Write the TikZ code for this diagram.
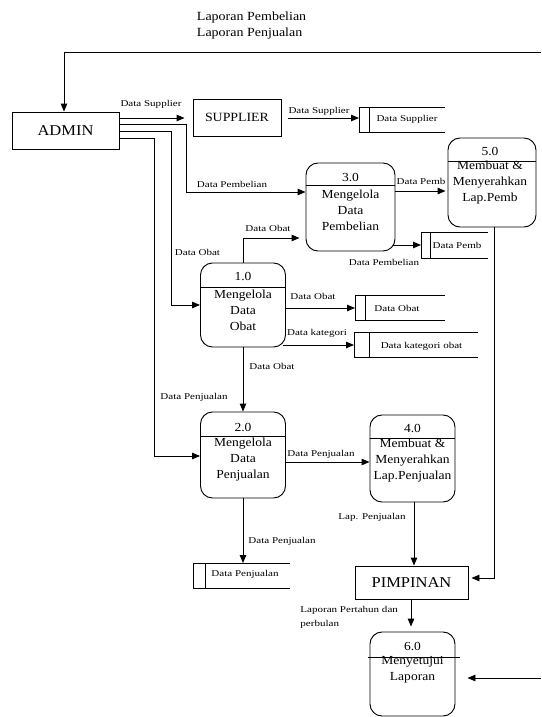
\documentclass[tikz,border=0pt]{standalone}
\usepackage{fontspec}
\setmainfont{Liberation Serif}
\newfontfamily\lblfont[FakeStretch=1.24]{Liberation Serif}
\newfontfamily\procfont[FakeStretch=1.1]{Liberation Serif}
\newfontfamily\widefont[FakeStretch=1.12]{Liberation Serif}
\usetikzlibrary{arrows.meta}
\begin{document}
\begin{tikzpicture}[x=1pt,y=-1pt,line width=0.95pt,
  flow/.style={draw,-{Triangle[length=8pt,width=6.5pt]}},
  ent/.style={draw,inner sep=0pt},
  proc/.style={draw,rounded corners=12pt,inner sep=0pt},
  ptxt/.style={font=\procfont\fontsize{12.3}{16}\selectfont,align=center,inner sep=0pt},
  stbox/.style={inner sep=0pt,outer sep=0pt},
  lbl/.style={font=\lblfont\fontsize{8.9}{14}\selectfont,inner sep=0pt}]
\fill[white] (0,0) rectangle (541,717);
\useasboundingbox (0,0) rectangle (541,717);

% external entities
\node[ent,minimum width=107pt,minimum height=37pt,font=\procfont\fontsize{15}{18}\selectfont] (adm) at (65.5,130.5) {ADMIN};
\node[ent,minimum width=88pt,minimum height=37pt,font=\procfont\fontsize{12.6}{16}\selectfont] (sup) at (237,117.5) {SUPPLIER};
\node[ent,minimum width=113pt,minimum height=33pt,font=\procfont\fontsize{15}{18}\selectfont] (pim) at (411.5,582.5) {PIMPINAN};

% processes
\node[proc,minimum width=85pt,minimum height=84pt] (p1) at (243,305) {};
\draw (p1.west |- 0,287) -- (p1.east |- 0,287);
\node[ptxt] (p1n) at (243,276) {1.0};
\node[ptxt] (p1t) at (243,310) {Mengelola\\Data\\Obat};

\node[proc,minimum width=85pt,minimum height=86pt] (p2) at (243,455) {};
\draw (p2.west |- 0,436) -- (p2.east |- 0,436);
\node[ptxt] (p2n) at (243,427) {2.0};
\node[ptxt] (p2t) at (243,460) {Mengelola\\Data\\Penjualan};

\node[proc,minimum width=89pt,minimum height=88pt] (p3) at (350.5,207) {};
\draw (p3.west |- 0,185) -- (p3.east |- 0,185);
\node[ptxt] (p3n) at (350.5,177) {3.0};
\node[ptxt] (p3t) at (350.5,210.5) {Mengelola\\Data\\Pembelian};

\node[proc,minimum width=85pt,minimum height=87pt] (p4) at (412.5,458.5) {};
\draw (p4.west |- 0,438) -- (p4.east |- 0,438);
\node[ptxt] (p4n) at (412.5,428) {4.0};
\node[ptxt] (p4t) at (412.5,461) {Membuat \&\\Menyerahkan\\Lap.Penjualan};

\node[proc,minimum width=88pt,minimum height=89pt] (p5) at (492,182.5) {};
\draw (p5.west |- 0,161) -- (p5.east |- 0,161);
\node[ptxt] (p5n) at (490,151) {5.0};
\node[ptxt] (p5t) at (490,183) {Membuat \&\\Menyerahkan\\Lap.Pemb};

\node[proc,minimum width=85pt,minimum height=84pt] (p6) at (412.5,674) {};
\draw ([xshift=-2pt]p6.west |- 0,657) -- ([xshift=5pt]p6.east |- 0,657);
\node[ptxt] (p6n) at (412.5,646) {6.0};
\node[ptxt] (p6t) at (412.5,670) {Menyetujui\\Laporan};

% data stores
\node[stbox,minimum width=86pt,minimum height=25pt] (sSup) at (402,119.5) {};
\draw (sSup.north east) -- (sSup.north west) -- (sSup.south west) -- (sSup.south east);
\draw ([xshift=10pt]sSup.north west) -- ([xshift=10pt]sSup.south west);
\node[lbl] (sSupT) at (407,119) {Data Supplier};

\node[stbox,minimum width=67pt,minimum height=26pt] (sPemb) at (454.5,245) {};
\draw (sPemb.north east) -- (sPemb.north west) -- (sPemb.south west) -- (sPemb.south east);
\draw ([xshift=9pt]sPemb.north west) -- ([xshift=9pt]sPemb.south west);
\node[lbl] (sPembT) at (457,245) {Data Pemb};

\node[stbox,minimum width=90pt,minimum height=25pt] (sObat) at (400,307.5) {};
\draw (sObat.north east) -- (sObat.north west) -- (sObat.south west) -- (sObat.south east);
\draw ([xshift=10pt]sObat.north west) -- ([xshift=10pt]sObat.south west);
\node[lbl] (sObatT) at (397,308) {Data Obat};

\node[stbox,minimum width=124pt,minimum height=25pt] (sKat) at (416,344.5) {};
\draw (sKat.north east) -- (sKat.north west) -- (sKat.south west) -- (sKat.south east);
\draw ([xshift=15pt]sKat.north west) -- ([xshift=15pt]sKat.south west);
\node[lbl] (sKatT) at (421.5,346) {Data kategori obat};

\node[stbox,minimum width=96pt,minimum height=25pt] (sPenj) at (241.5,575.5) {};
\draw (sPenj.north east) -- (sPenj.north west) -- (sPenj.south west) -- (sPenj.south east);
\draw ([xshift=11.5pt]sPenj.north west) -- ([xshift=11.5pt]sPenj.south west);
\node[lbl] (sPenjT) at (245,574) {Data Penjualan};

% free ends
\coordinate (topR) at (541,52);
\coordinate (botR) at (541,678);

% connectors
\draw[flow] (topR) -- (64,52) -- (adm.north -| 64,0);
\node[font=\widefont\fontsize{12.5}{16}\selectfont,align=left,anchor=west,inner sep=0pt] (lbTop) at (196.5,25) {Laporan Pembelian\\Laporan Penjualan};

\draw[flow,shorten >=8pt] (adm.east |- 0,118) -- (sup.west |- 0,118);
\node[lbl] (lb1) at (151,104) {Data Supplier};

\draw[flow] (adm.east |- 0,124) -- (186,124) -- (186,192) -- (p3.west |- 0,192);
\node[lbl] (lb2) at (232,184) {Data Pembelian};

\draw[flow] (adm.east |- 0,131) -- (171,131) -- (171,305) -- (p1.west);
\node[lbl] (lb3) at (197.5,252) {Data Obat};

\draw[flow] (adm.east |- 0,138) -- (154,138) -- (154,456) -- (p2.west |- 0,456);
\node[lbl] (lb4) at (194,397) {Data Penjualan};

\draw[flow,shorten <=7pt] (sup.east |- 0,118) -- (sSup.west |- 0,118);
\node[lbl] (lb5) at (319,111) {Data Supplier};

\draw[flow,shorten >=2pt] (p3.east |- 0,191) -- (p5.west |- 0,191);
\node[lbl] (lb6) at (421,181) {Data Pemb};

\draw[flow] ([xshift=-2pt]p3.east |- 0,245) -- (sPemb.west |- 0,245);
\node[lbl] (lb7) at (384,262) {Data Pembelian};

\draw[flow,shorten >=6pt] (p1.north) -- (243,238) -- (p3.west |- 0,238);
\node[lbl] (lb8) at (268,228) {Data Obat};

\draw[flow] (p1.east |- 0,308) -- (sObat.west |- 0,308);
\node[lbl] (lb9) at (313,296) {Data Obat};

\draw[flow] ([xshift=-3pt]p1.east |- 0,345) -- (sKat.west |- 0,345);
\node[lbl] (lb10) at (317,333) {Data kategori};

\draw[flow] (p1.south) -- (p2.north);
\node[lbl] (lb11) at (272,366) {Data Obat};

\draw[flow] (p2.east |- 0,462) -- (p4.west |- 0,462);
\node[lbl] (lb12) at (321,454) {Data Penjualan};

\draw[flow] (p4.south -| 414,0) -- (pim.north -| 414,0);
\node[lbl] (lb13) at (372,517) {Lap. Penjualan};

\draw[flow,shorten >=3pt] (p5.south -| 494,0) -- (494,578) -- (pim.east |- 0,578);

\draw[flow] (p2.south) -- (p2.south |- sPenj.north);
\node[lbl] (lb14) at (282,541) {Data Penjualan};

\draw[flow,shorten >=5pt] (pim.south -| 411,0) -- (p6.north -| 411,0);
\node[lbl,align=left,anchor=west] (lb15) at (300,617) {Laporan Pertahun dan\\perbulan};

\draw[flow,shorten >=12pt] (botR) -- (p6.east |- 0,678);
\end{tikzpicture}
\end{document}
